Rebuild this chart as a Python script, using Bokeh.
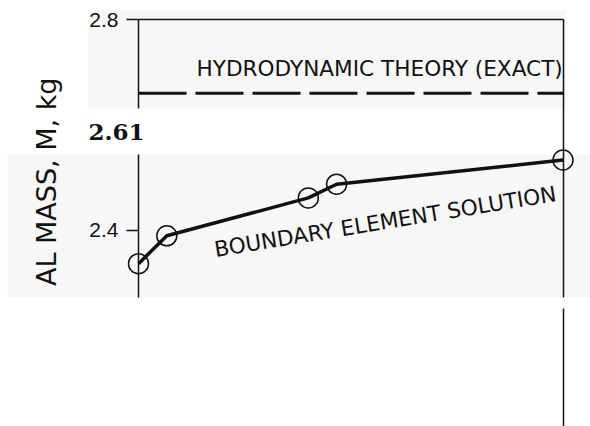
import math

from bokeh.plotting import figure
from bokeh.models import Range1d, LinearAxis, FixedTicker, BoxAnnotation, Label
from bokeh.embed import file_html
from bokeh.resources import INLINE

# ---- data -------------------------------------------------------------
# boundary element runs (relative mesh position along the horizontal scale)
run_pos = [0, 1, 6, 7, 15]
# added mass from the boundary element solution, kg
added_mass = [2.336, 2.389, 2.461, 2.487, 2.533]
# exact value from hydrodynamic theory, kg
theory_mass = 2.66
theory_span = [0, 15]
y_ticks_upper = [2.8]
y_ticks_lower = [2.4]
label_theory = "HYDRODYNAMIC THEORY (EXACT)"
label_bem = "BOUNDARY ELEMENT SOLUTION"
label_y = "AL MASS, M, kg"
label_mid = "2.61"

# ---- canvas geometry ---------------------------------------------------
W, H = 590, 426
X0_PX, X1_PX = 138.0, 562.5        # pixel columns of x = 0 and x = 15
YT_PX, YB_PX = 19.0, 229.5         # pixel rows of M = 2.8 and M = 2.4
PX_X = (X1_PX - X0_PX) / 15.0
PX_Y = (YB_PX - YT_PX) / 0.4


def dx(px):
    return (px - X0_PX) / PX_X


def dy(py):
    return 2.8 - (py - YT_PX) / PX_Y


x_range = Range1d(dx(0), dx(W))
y_range = Range1d(dy(H), dy(0))

p = figure(width=W, height=H, x_range=x_range, y_range=y_range,
           x_axis_type=None, y_axis_type=None, min_border=0,
           toolbar_location=None, output_backend="svg",
           outline_line_color=None, background_fill_color="white",
           border_fill_color="white")

INK = "#111111"

# light grey backing sheets
for l, r, t, b in [(88, 565, 10, 108), (7, 590, 154, 297)]:
    p.add_layout(BoxAnnotation(left=dx(l), right=dx(r), top=dy(t), bottom=dy(b),
                               fill_color="#f7f7f7", fill_alpha=1.0,
                               line_color=None, level="underlay"))


def style_axis(ax, ticks):
    ax.ticker = FixedTicker(ticks=ticks)
    ax.axis_line_color = INK
    ax.axis_line_width = 1.5
    ax.major_tick_line_color = INK
    ax.major_tick_line_width = 1.5
    ax.major_tick_out = 12
    ax.major_tick_in = 0
    ax.minor_tick_line_color = None
    ax.major_label_text_font = "Liberation Sans"
    ax.major_label_text_font_size = "21px"
    ax.major_label_text_color = INK
    ax.major_label_standoff = 8
    return ax


# left axis, split into two pieces
p.add_layout(style_axis(LinearAxis(fixed_location=0, bounds=(dy(108), 2.8001)),
                        y_ticks_upper), "left")
p.add_layout(style_axis(LinearAxis(fixed_location=0, bounds=(dy(297), dy(154))),
                        y_ticks_lower), "left")
# right border, with a break
p.add_layout(style_axis(LinearAxis(fixed_location=15, bounds=(dy(297), 2.8)), []), "right")
p.add_layout(style_axis(LinearAxis(fixed_location=15, bounds=(dy(H), dy(308))), []), "right")
# top border
p.add_layout(style_axis(LinearAxis(fixed_location=2.8, bounds=(0, 15)), []), "above")

# exact theory line
p.line(theory_span, [theory_mass] * len(theory_span), line_color=INK,
       line_width=3, line_dash="48 9")

# boundary element results
p.line(run_pos, added_mass, line_color=INK, line_width=3.5)
p.scatter(run_pos, added_mass, marker="circle", size=20, fill_color=None,
          line_color=INK, line_width=1.5)

# annotations
p.add_layout(Label(x=dx(196), y=dy(68), text=label_theory, text_font="DejaVu Sans",
                   text_font_size="21.6px", text_color=INK, text_align="left",
                   text_baseline="alphabetic"))
p.add_layout(Label(x=dx(214), y=dy(249), text=label_bem, text_font="DejaVu Sans",
                   text_font_size="21.6px", text_color=INK, text_align="left",
                   text_baseline="alphabetic", angle=math.radians(9.3)))
p.add_layout(Label(x=dx(88), y=dy(131), text=label_mid, text_font="DejaVu Serif",
                   text_font_style="bold", text_font_size="23px", text_color=INK,
                   text_align="left", text_baseline="alphabetic"))
p.add_layout(Label(x=dx(46), y=dy(77), text=label_y, text_font="DejaVu Sans",
                   text_font_size="27px", text_color=INK, text_align="right",
                   text_baseline="alphabetic", angle=math.pi / 2))

open("out.html", "w").write(file_html(p, INLINE))
